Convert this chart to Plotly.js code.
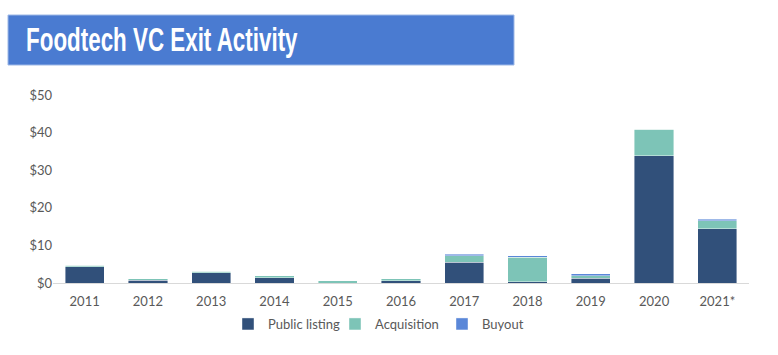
<!DOCTYPE html>
<html>
<head>
<meta charset="utf-8">
<script src="https://cdn.plot.ly/plotly-3.0.1.min.js"></script>
<style>html,body{margin:0;padding:0;background:#fff;}#chart{width:778px;height:355px;}</style>
</head>
<body>
<div id="chart"></div>
<script>
const years = ["2011","2012","2013","2014","2015","2016","2017","2018","2019","2020","2021*"];
const publicListing = [4.3, 0.7, 2.7, 1.4, 0.0, 0.6, 5.5, 0.3, 1.3, 33.9, 14.4];
const acquisition   = [0.4, 0.4, 0.4, 0.5, 0.6, 0.5, 1.7, 6.5, 0.6, 7.0, 2.1];
const buyout        = [0.0, 0.0, 0.0, 0.0, 0.0, 0.0, 0.5, 0.4, 0.5, 0.0, 0.4];
const seriesNames = ["Public listing", "Acquisition", "Buyout"];
const titleText = "Foodtech VC Exit Activity";

const colors = ["#31507a", "#7dc4b7", "#5a87d8"];
const seriesData = [publicListing, acquisition, buyout];
const traces = seriesData.map((vals, i) => ({
  type: "bar",
  name: seriesNames[i],
  x: years,
  y: vals,
  marker: {color: colors[i], line: {color: "rgba(255,255,255,0.7)", width: 0.6}},
  hoverinfo: "x+y+name"
}));

const L = 53, T = 95, W = 696, H = 188;
const px = v => (v - L) / W;
const py = v => (T + H - v) / H;

const layout = {
  width: 778, height: 355,
  margin: {l: L, r: 778 - L - W, t: T, b: 355 - T - H},
  paper_bgcolor: "#ffffff",
  plot_bgcolor: "#ffffff",
  barmode: "stack",
  bargap: 0.38,
  font: {family: "Lato, 'Open Sans', sans-serif", size: 13, color: "#595959"},
  showlegend: true,
  legend: {orientation: "h", traceorder: "normal", x: px(228), xanchor: "left", y: py(324), yanchor: "middle",
           font: {size: 13, color: "#595959"}, itemwidth: 30, entrywidth: 62, tracegroupgap: 0},
  xaxis: {type: "category", showgrid: false, zeroline: false, showline: true,
          linecolor: "#d9d9d9", linewidth: 1, ticks: "", ticklabelstandoff: 6,
          tickfont: {size: 13, color: "#595959"}, fixedrange: true},
  yaxis: {range: [0, 50], dtick: 10, tickprefix: "$", showgrid: false, zeroline: false,
          showline: false, ticks: "", tickfont: {size: 13, color: "#595959"}, fixedrange: true},
  shapes: [{type: "rect", xref: "paper", yref: "paper",
            x0: px(8), x1: px(514), y0: py(65), y1: py(15),
            fillcolor: "#4a7bd1", line: {color: "#9db8e6", width: 1}, layer: "above"}],
  annotations: [{text: "<b>" + titleText + "</b>", xref: "paper", yref: "paper",
                 x: px(24), xanchor: "left", y: py(40), yanchor: "middle", showarrow: false,
                 font: {family: "'Liberation Sans', Arial, sans-serif", size: 33, color: "#ffffff"}}]
};

Plotly.newPlot("chart", traces, layout, {displayModeBar: false, staticPlot: true}).then(gd => {
  const t = gd.querySelector(".annotation-text");
  if (t) {
    const bb = t.getBBox();
    const s = 272 / bb.width;
    t.style.transformBox = "fill-box";
    t.style.transformOrigin = "left center";
    t.style.transform = "scaleX(" + s + ")";
  }
});
</script>
</body>
</html>
